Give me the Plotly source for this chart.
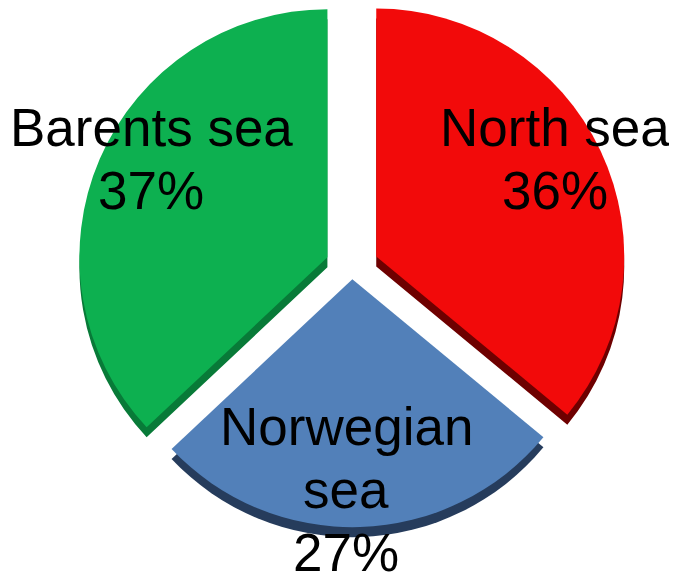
import math
import plotly.graph_objects as go

# data
labels = ["North sea", "Norwegian<br>sea", "Barents sea"]
values = [36, 27, 37]
colors = ["#F20A0A", "#5280B9", "#0DB050"]
side_colors = ["#6E0000", "#263C5C", "#087A38"]
pulls = [0.108, 0.045, 0.108]

W, H = 677, 575
OFF = 8            # page body margin of the html page
cx, cy = 352, 268  # pie centre, window px
r = 248            # pie radius px
depth = 10         # thickness of the fake 3d edge

total = sum(values)


def dom(x, y):
    # square domain of side 2r centred on window px (x, y)
    x, y = x - OFF, y - OFF
    return dict(x=[max((x - r) / W, 0), min((x + r) / W, 1)],
                y=[max(1 - (y + r) / H, 0), min(1 - (y - r) / H, 1)])


fig = go.Figure()
for layer, cols, dy in [("side", side_colors, depth), ("top", colors, 0)]:
    start = 0
    for i, v in enumerate(values):
        mid = 2 * math.pi * (start + v / 2) / total
        start += v
        px = cx + math.sin(mid) * pulls[i] * r
        py = cy - math.cos(mid) * pulls[i] * r + dy
        c = ["rgba(0,0,0,0)"] * len(values)
        c[i] = cols[i]
        fig.add_trace(go.Pie(labels=labels, values=values, sort=False, direction="clockwise",
                             textinfo="none", hoverinfo="skip" if layer == "side" else "label+percent",
                             marker=dict(colors=c, line=dict(width=0)),
                             domain=dom(px, py), showlegend=False))

# label positions (window px): centre of first line, line step
label_pos = [(555, 128), (346, 427), (151, 128)]
step = 63
anns = []
for lab, v, (x, y) in zip(labels, values, label_pos):
    lines = lab.split("<br>") + ["%d%%" % round(100 * v / total)]
    for i, t in enumerate(lines):
        anns.append(dict(text=t, x=(x - OFF) / W, y=1 - (y + i * step - OFF - 1) / H,
                         xref="paper", yref="paper", showarrow=False,
                         xanchor="center", yanchor="middle",
                         font=dict(size=53, color="black", family="Liberation Sans, Arial")))

fig.update_layout(width=W, height=H, margin=dict(l=0, r=0, t=0, b=0),
                  paper_bgcolor="white", plot_bgcolor="white", annotations=anns)
fig.write_html("out.html")
